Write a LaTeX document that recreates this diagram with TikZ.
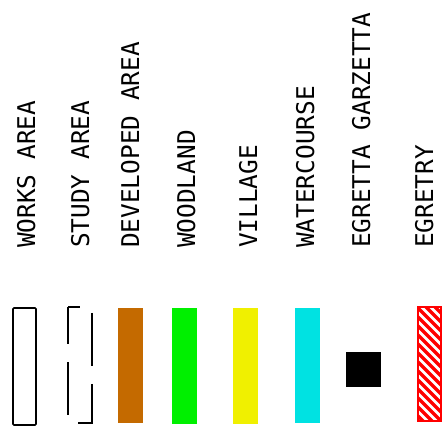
\documentclass[tikz,border=0pt]{standalone}
\usepackage{fontspec}
\usepackage{tikz}
\usetikzlibrary{positioning}
\newfontfamily\legendfont{DejaVu Sans Mono}
\definecolor{devbrown}{RGB}{196,106,0}
\definecolor{woodgreen}{RGB}{0,240,0}
\definecolor{villyellow}{RGB}{240,240,0}
\definecolor{watercyan}{RGB}{0,226,226}
\definecolor{egretred}{RGB}{255,0,0}

\begin{document}
\begin{tikzpicture}[x=1pt, y=1pt,
    legendtext/.style={rotate=90, anchor=base west, inner sep=0pt,
        font=\legendfont\fontsize{24.4}{26}\selectfont}]
    \useasboundingbox (0,0) rectangle (442,436);

    % Labels
    \node[legendtext] (lworks) at (35,188) {WORKS AREA};
    \node[legendtext] (lstudy) at (89,188) {STUDY AREA};
    \node[legendtext] (ldev) at (139,188) {DEVELOPED AREA};
    \node[legendtext] (lwood) at (195,188) {WOODLAND};
    \node[legendtext] (lvill) at (257,188) {VILLAGE};
    \node[legendtext] (lwater) at (314,188) {WATERCOURSE};
    \node[legendtext] (lgarz) at (370,188) {EGRETTA GARZETTA};
    \node[legendtext] (legry) at (433,188) {EGRETRY};

    % Works area
    \draw[line width=1.6pt, rounded corners=1pt] (13,11) rectangle (36,128);

    % Study area (dashed)
    \draw[line width=1.6pt, dash pattern=on 53pt off 18pt, dash phase=41pt]
        (68,129) -- (92,129) -- (92,13) -- (68,13) -- cycle;

    % Developed area, woodland, village, watercourse
    \fill[devbrown] (118,13) rectangle (143,128);
    \fill[woodgreen] (172,12) rectangle (197,128);
    \fill[villyellow] (233,12) rectangle (258,128);
    \fill[watercyan] (295,13) rectangle (320,128);

    % Egretta garzetta
    \fill[black] (346,49) rectangle (381,84);

    % Egretry (hatched)
    \begin{scope}
        \clip (418,15) rectangle (441,129);
        \foreach \c in {10,19,...,172} {
            \draw[egretred, line width=3.2pt] (410,\c) -- ++(40,-40);
        }
    \end{scope}
    \draw[egretred, line width=2pt] (418,15) rectangle (441,129);
\end{tikzpicture}
\end{document}
